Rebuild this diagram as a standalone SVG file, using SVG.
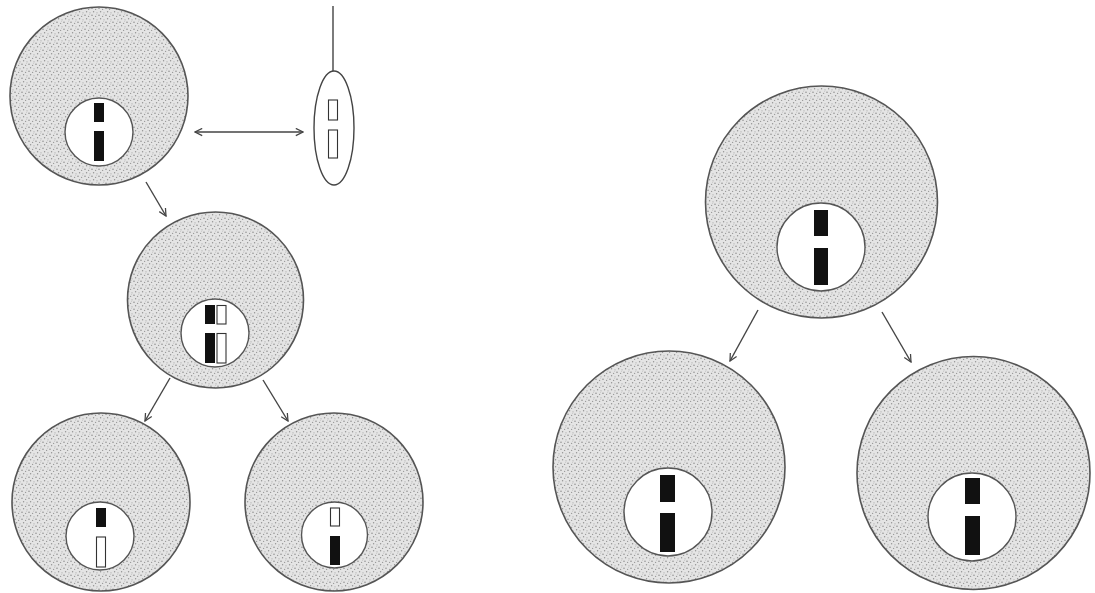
<svg xmlns="http://www.w3.org/2000/svg" width="1095" height="593" viewBox="0 0 1095 593">
  <defs>
    <!-- stippled cytoplasm -->
    <pattern id="stipple" width="7" height="7" patternUnits="userSpaceOnUse">
      <rect width="7" height="7" fill="#e4e4e4"/>
      <circle cx="1" cy="1.2" r="0.75" fill="#8c8c8c"/>
      <circle cx="4.6" cy="2.4" r="0.65" fill="#999"/>
      <circle cx="2.6" cy="4.8" r="0.7" fill="#939393"/>
      <circle cx="6" cy="5.8" r="0.6" fill="#a4a4a4"/>
      <circle cx="5.6" cy="0.3" r="0.45" fill="#b4b4b4"/>
    </pattern>
    <marker id="open" viewBox="0 0 10 10" refX="9" refY="5" markerWidth="9" markerHeight="9" orient="auto-start-reverse" markerUnits="userSpaceOnUse">
      <path d="M1,1 L9,5 L1,9" fill="none" stroke="#444" stroke-width="1.4"/>
    </marker>
    <style>
      .cell { fill: url(#stipple); stroke: #555; stroke-width: 1.6; }
      .nuc { fill: #fff; stroke: #555; stroke-width: 1.4; }
      .blk { fill: #111; }
      .wht { fill: #fff; stroke: #333; stroke-width: 1.1; }
      .conn { fill: none; stroke: #444; stroke-width: 1.4; marker-end: url(#open); }
      .dbl { marker-start: url(#open); }
      .sperm { fill: #fff; stroke: #444; stroke-width: 1.4; }
    </style>
  </defs>
  <rect width="1095" height="593" fill="#fff"/>

  <!-- left: fertilisation and mitosis -->
  <g id="egg">
    <circle class="cell" cx="99" cy="96" r="89"/>
    <circle class="nuc" cx="99" cy="132" r="34"/>
    <rect class="blk" x="94" y="103" width="10" height="19"/>
    <rect class="blk" x="94" y="131" width="10" height="30"/>
  </g>

  <g id="sperm">
    <line x1="333" y1="6" x2="333" y2="71" stroke="#444" stroke-width="1.4"/>
    <ellipse class="sperm" cx="334" cy="128" rx="20" ry="57"/>
    <rect class="wht" x="328.5" y="100" width="9" height="20"/>
    <rect class="wht" x="328.5" y="130" width="9" height="28"/>
  </g>

  <g id="zygote">
    <circle class="cell" cx="215.5" cy="300" r="88"/>
    <circle class="nuc" cx="215" cy="333" r="34"/>
    <rect class="blk" x="205" y="305" width="10" height="19"/>
    <rect class="wht" x="217" y="305.5" width="9" height="18.5"/>
    <rect class="blk" x="205" y="333" width="10" height="30"/>
    <rect class="wht" x="217" y="333.5" width="9" height="29.5"/>
  </g>

  <g id="daughter-left">
    <circle class="cell" cx="101" cy="502" r="89"/>
    <circle class="nuc" cx="100" cy="536" r="34"/>
    <rect class="blk" x="96" y="508" width="10" height="19"/>
    <rect class="wht" x="96.5" y="537" width="9" height="30"/>
  </g>

  <g id="daughter-right">
    <circle class="cell" cx="334" cy="502" r="89"/>
    <circle class="nuc" cx="334.5" cy="535" r="33"/>
    <rect class="wht" x="330.5" y="508" width="9" height="18"/>
    <rect class="blk" x="330" y="536" width="10" height="29"/>
  </g>

  <!-- right: simple mitosis -->
  <g id="parent">
    <circle class="cell" cx="821.5" cy="202" r="116"/>
    <circle class="nuc" cx="821" cy="247" r="44"/>
    <rect class="blk" x="814" y="210" width="14" height="26"/>
    <rect class="blk" x="814" y="248" width="14" height="37"/>
  </g>

  <g id="child-left">
    <circle class="cell" cx="669" cy="467" r="116"/>
    <circle class="nuc" cx="668" cy="512" r="44"/>
    <rect class="blk" x="660" y="475" width="15" height="27"/>
    <rect class="blk" x="660" y="513" width="15" height="39"/>
  </g>

  <g id="child-right">
    <circle class="cell" cx="973.5" cy="473" r="116.5"/>
    <circle class="nuc" cx="972" cy="517" r="44"/>
    <rect class="blk" x="965" y="478" width="15" height="26"/>
    <rect class="blk" x="965" y="516" width="15" height="39"/>
  </g>

  <g id="connectors">
    <line class="conn dbl" x1="195" y1="132" x2="303" y2="132"/>
    <line class="conn" x1="146" y1="182" x2="166" y2="216"/>
    <line class="conn" x1="170" y1="378" x2="145" y2="421"/>
    <line class="conn" x1="263" y1="380" x2="288" y2="421"/>
    <line class="conn" x1="758" y1="310" x2="730" y2="361"/>
    <line class="conn" x1="882" y1="312" x2="911" y2="362"/>
  </g>
</svg>
